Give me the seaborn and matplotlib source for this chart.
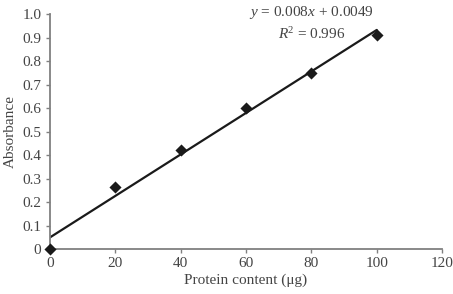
import seaborn as sns
import matplotlib.pyplot as plt
import pandas as pd

protein = [0, 20, 40, 60, 80, 100]
absorbance = [0.0, 0.265, 0.42, 0.60, 0.75, 0.91]
xticks = [0, 20, 40, 60, 80, 100, 120]
yticks = [0, 0.1, 0.2, 0.3, 0.4, 0.5, 0.6, 0.7, 0.8, 0.9, 1.0]
ytick_labels = ['0', '0.1', '0.2', '0.3', '0.4', '0.5', '0.6', '0.7', '0.8', '0.9', '1.0']

df = pd.DataFrame({'protein': protein, 'absorbance': absorbance})

sns.set_style('white')
plt.rcParams['font.family'] = ['Liberation Serif', 'DejaVu Serif']
plt.rcParams['mathtext.fontset'] = 'custom'
plt.rcParams['mathtext.rm'] = 'Liberation Serif'
plt.rcParams['mathtext.it'] = 'Liberation Serif:italic'

fig = plt.figure(figsize=(4.53, 2.94), dpi=100)
ax = fig.add_axes([0.110, 0.153, 0.866, 0.799])

sns.regplot(data=df, x='protein', y='absorbance', ax=ax, ci=None, marker='D',
            scatter_kws={'s': 38, 'color': '#1a1a1a', 'alpha': 1, 'clip_on': False, 'zorder': 5,
                         'linewidths': 0},
            line_kws={'color': '#1a1a1a', 'linewidth': 1.6})

ax.set_xlim(0, 120)
ax.set_ylim(0, 1.0)
ax.set_xticks(xticks)
ax.set_yticks(yticks)
ax.set_yticklabels(ytick_labels)
ax.set_xlabel('Protein content (μg)', fontsize=11, color='#444444', labelpad=2)
ax.set_ylabel('Absorbance', fontsize=11, color='#444444', labelpad=4)

sns.despine(ax=ax)
for side in ['left', 'bottom']:
    ax.spines[side].set_color('#808080')
    ax.spines[side].set_linewidth(1.3)
ax.tick_params(axis='both', bottom=True, left=True, direction='out', length=3, width=1,
               color='#808080', labelsize=11, labelcolor='#444444', pad=3)

ax.text(80, 1.005, '$y$ = 0.008$x$ + 0.0049', ha='center', va='center',
        fontsize=11, color='#444444', clip_on=False)
ax.text(80, 0.915, '$R$$^2$ = 0.996', ha='center', va='center',
        fontsize=11, color='#444444')

fig.savefig('out.png', dpi=100)
